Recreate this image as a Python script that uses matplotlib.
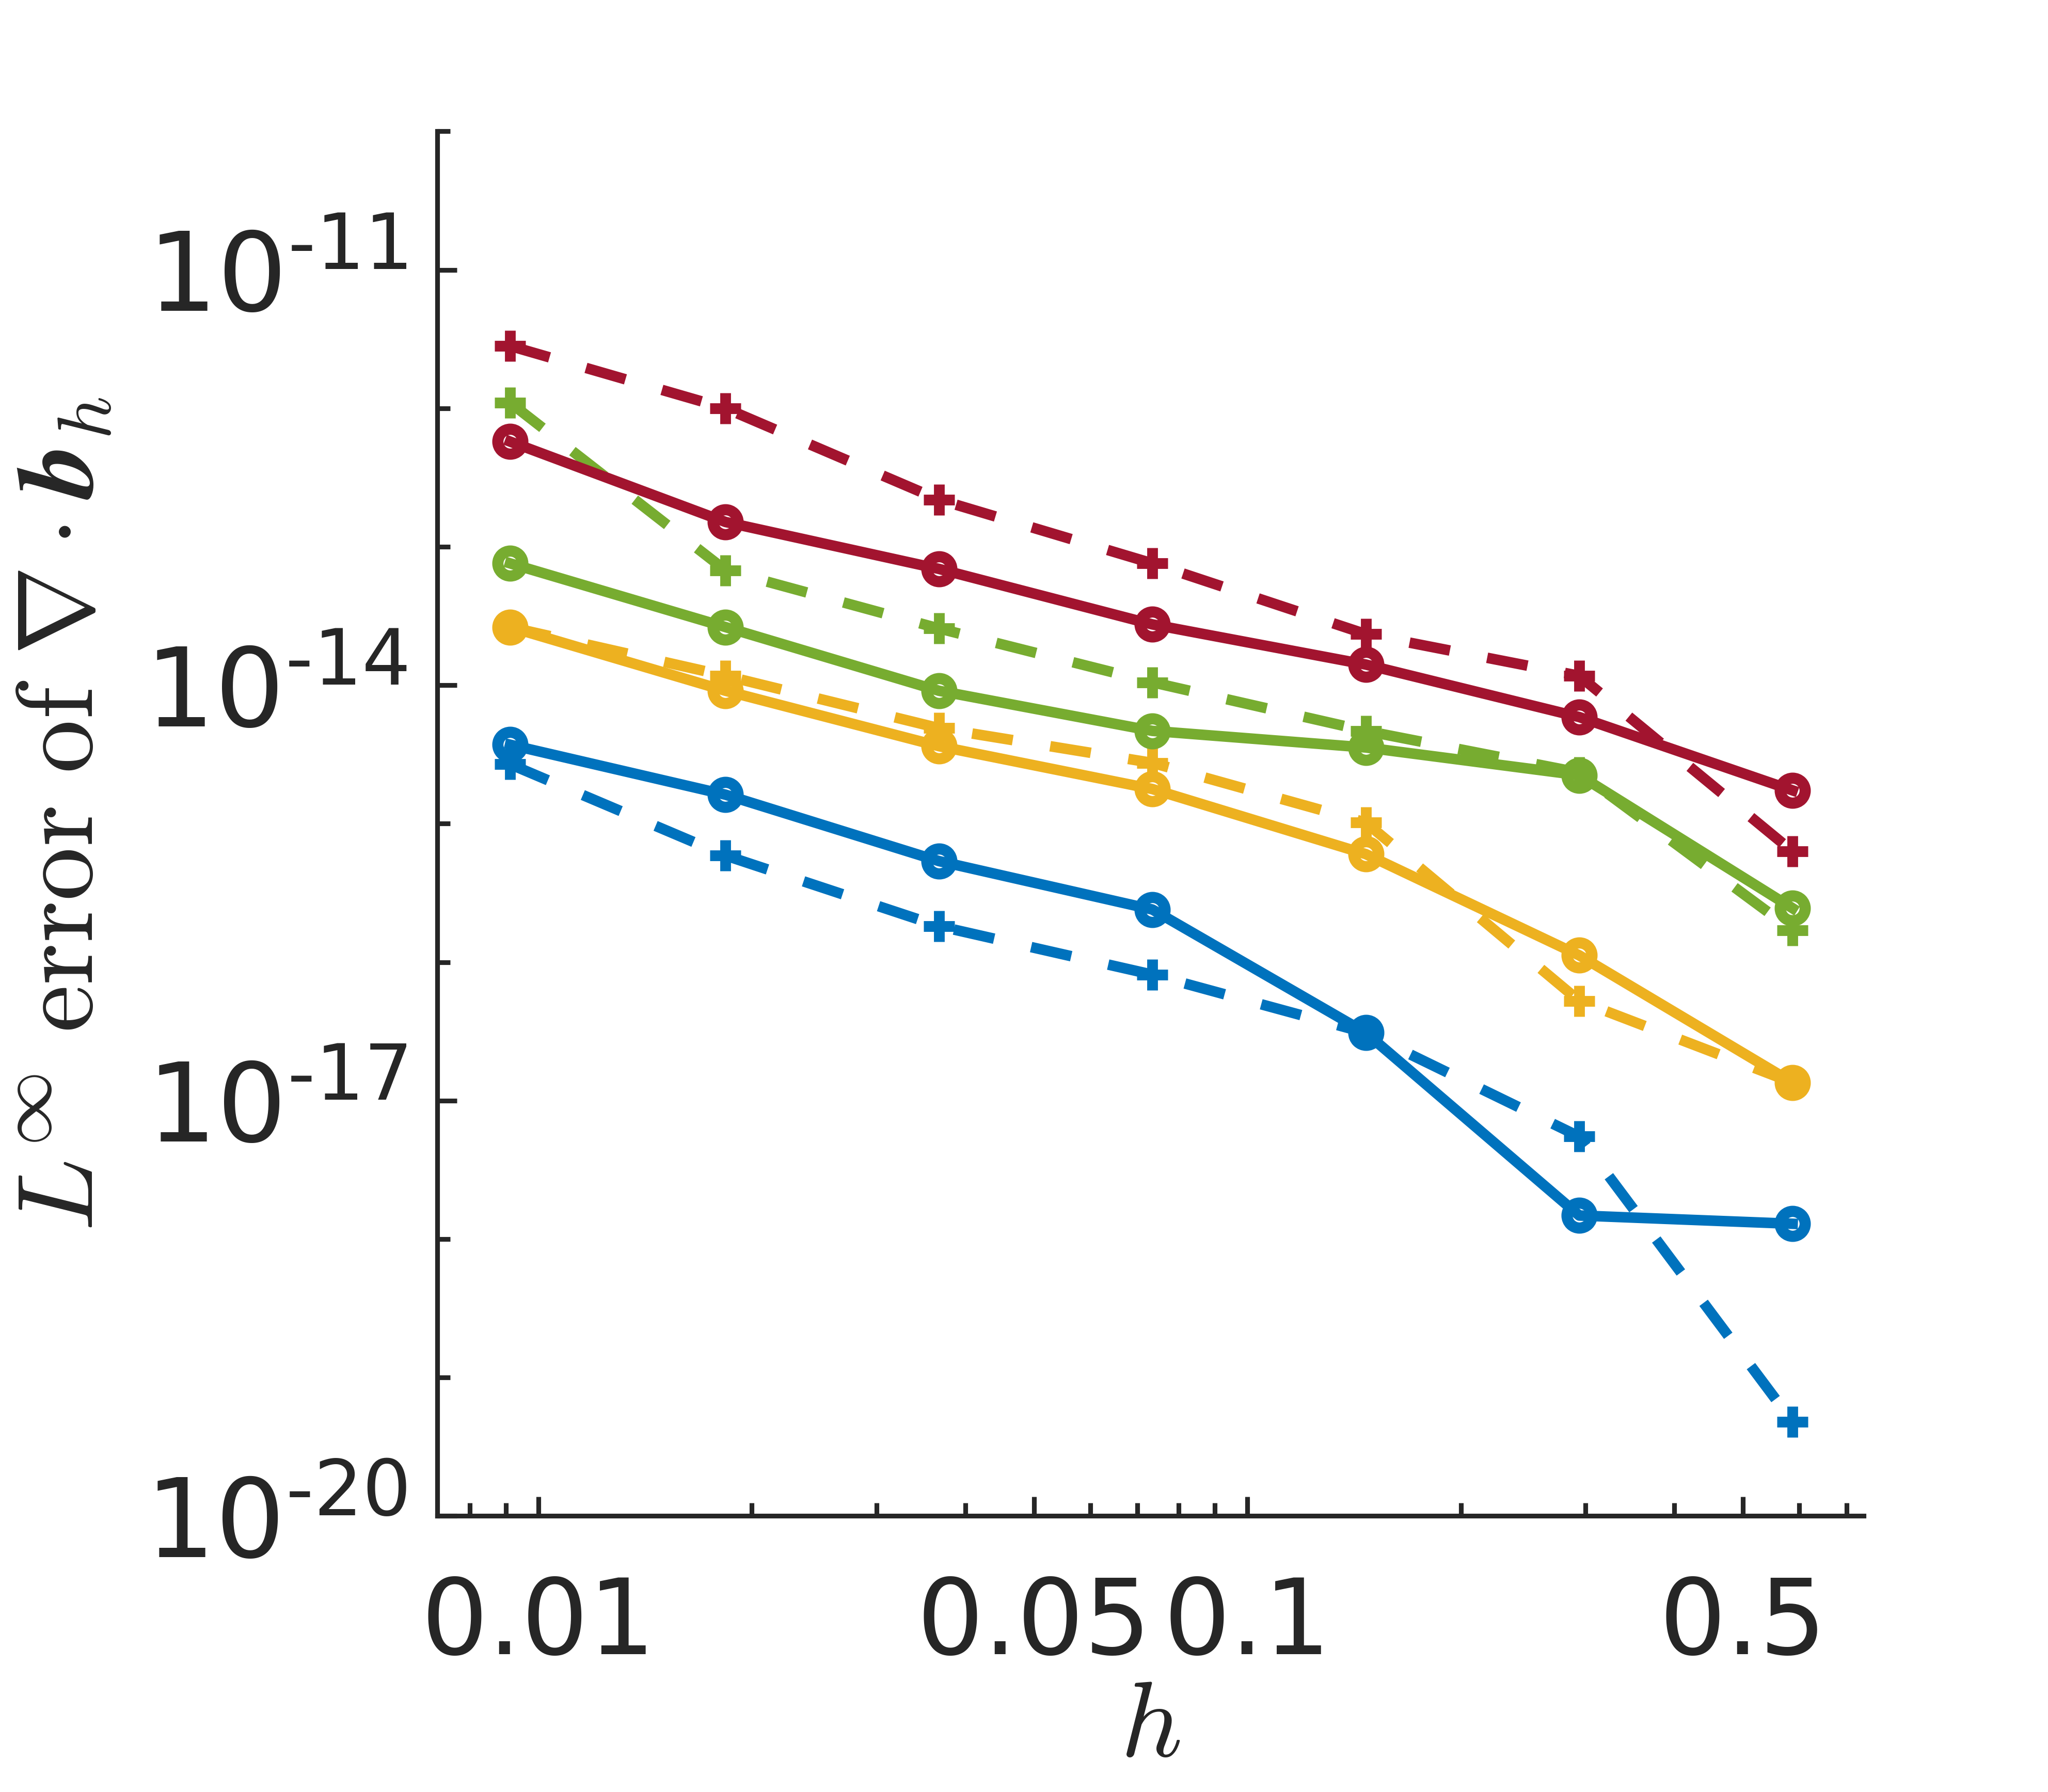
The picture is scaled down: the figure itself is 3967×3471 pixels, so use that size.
import matplotlib
matplotlib.use("Agg")
import matplotlib.pyplot as plt
from matplotlib.ticker import FixedLocator, FixedFormatter, NullFormatter

plt.rcParams["font.family"] = ["DejaVu Sans"]
plt.rcParams["mathtext.fontset"] = "cm"

# mesh sizes
h = [0.00912, 0.01836, 0.03672, 0.07344, 0.1469, 0.2938, 0.5875]

# L-infinity error of div b_h
blue_solid = [3.72e-15, 1.62e-15, 5.37e-16, 2.40e-16, 3.09e-17, 1.48e-18, 1.29e-18]
blue_dash = [2.69e-15, 5.89e-16, 1.82e-16, 8.13e-17, 3.09e-17, 5.50e-18, 4.79e-20]
yellow_solid = [2.63e-14, 9.12e-15, 3.63e-15, 1.78e-15, 6.03e-16, 1.12e-16, 1.35e-17]
yellow_dash = [2.63e-14, 1.17e-14, 4.90e-15, 2.75e-15, 1.02e-15, 5.25e-17, 1.35e-17]
green_solid = [7.59e-14, 2.63e-14, 9.12e-15, 4.68e-15, 3.55e-15, 2.24e-15, 2.45e-16]
green_dash = [1.10e-12, 6.76e-14, 2.57e-14, 1.05e-14, 4.68e-15, 2.34e-15, 1.70e-16]
red_solid = [5.75e-13, 1.51e-13, 6.92e-14, 2.75e-14, 1.41e-14, 5.89e-15, 1.74e-15]
red_dash = [2.82e-12, 1.00e-12, 2.19e-13, 7.59e-14, 2.34e-14, 1.17e-14, 6.30e-16]

x_major = [0.01, 0.05, 0.1, 0.5]
x_major_labels = ["0.01", "0.05", "0.1", "0.5"]
x_minor = [0.008, 0.009, 0.02, 0.03, 0.04, 0.06, 0.07, 0.08, 0.09, 0.2, 0.3, 0.4, 0.6, 0.7]
y_major = [1e-20, 1e-17, 1e-14, 1e-11]
y_major_labels = ["10^{\N{HYPHEN}20}", "10^{\N{HYPHEN}17}", "10^{\N{HYPHEN}14}", "10^{\N{HYPHEN}11}"]
y_minor = [1e-19, 1e-18, 1e-16, 1e-15, 1e-13, 1e-12, 1e-10]

blue = "#0072BD"
yellow = "#EDB120"
green = "#77AC30"
red = "#A2142F"
dark = "#262626"

fig = plt.figure(figsize=(3967 / 300, 3471 / 300), dpi=300)
ax = fig.add_axes([0.2135, 0.154, 0.6965, 0.7727])

lw = 4.9
dash = (0, (3.9, 3.6))
series = [
    (blue_solid, blue, "-", "o"),
    (blue_dash, blue, dash, "+"),
    (yellow_solid, yellow, "-", "o"),
    (yellow_dash, yellow, dash, "+"),
    (green_solid, green, "-", "o"),
    (green_dash, green, dash, "+"),
    (red_solid, red, "-", "o"),
    (red_dash, red, dash, "+"),
]
for vals, col, ls, mk in series:
    if mk == "o":
        ax.plot(h, vals, color=col, linestyle=ls, linewidth=lw, marker="o",
                markersize=11.6, markeredgewidth=5.2, markerfacecolor="none")
    else:
        ax.plot(h, vals, color=col, linestyle=ls, linewidth=lw, marker="+",
                markersize=14.2, markeredgewidth=5.0)

ax.set_xscale("log")
ax.set_yscale("log")
ax.set_xlim(0.0072, 0.74)
ax.set_ylim(1e-20, 1e-10)

ax.xaxis.set_major_locator(FixedLocator(x_major))
ax.xaxis.set_major_formatter(FixedFormatter(x_major_labels))
ax.xaxis.set_minor_locator(FixedLocator(x_minor))
ax.xaxis.set_minor_formatter(NullFormatter())
ax.yaxis.set_major_locator(FixedLocator(y_major))
ax.yaxis.set_major_formatter(FixedFormatter(["$\\mathregular{%s}$" % s for s in y_major_labels]))
ax.yaxis.set_minor_locator(FixedLocator(y_minor))
ax.yaxis.set_minor_formatter(NullFormatter())

for side in ["top", "right"]:
    ax.spines[side].set_visible(False)
for side in ["left", "bottom"]:
    ax.spines[side].set_linewidth(2.2)
    ax.spines[side].set_color(dark)

ax.tick_params(which="both", direction="in", color=dark, width=2.2, labelcolor=dark)
ax.tick_params(which="major", length=9)
ax.tick_params(which="minor", length=6)
ax.tick_params(axis="x", which="both", pad=27, labelsize=49)
ax.tick_params(axis="y", which="both", pad=14, labelsize=51)

ax.set_xlabel(r"$h$", fontsize=50, color=dark, ha="center", va="center")
ax.xaxis.set_label_coords(0.5, -0.152)
ax.set_ylabel(r"$L^{\infty}\ \mathrm{error\ of}\ \nabla\cdot\boldsymbol{b}_h$",
              fontsize=50, color=dark, ha="center", va="center")
ax.yaxis.set_label_coords(-0.262, 0.507)

fig.savefig("out.png", dpi=300)
